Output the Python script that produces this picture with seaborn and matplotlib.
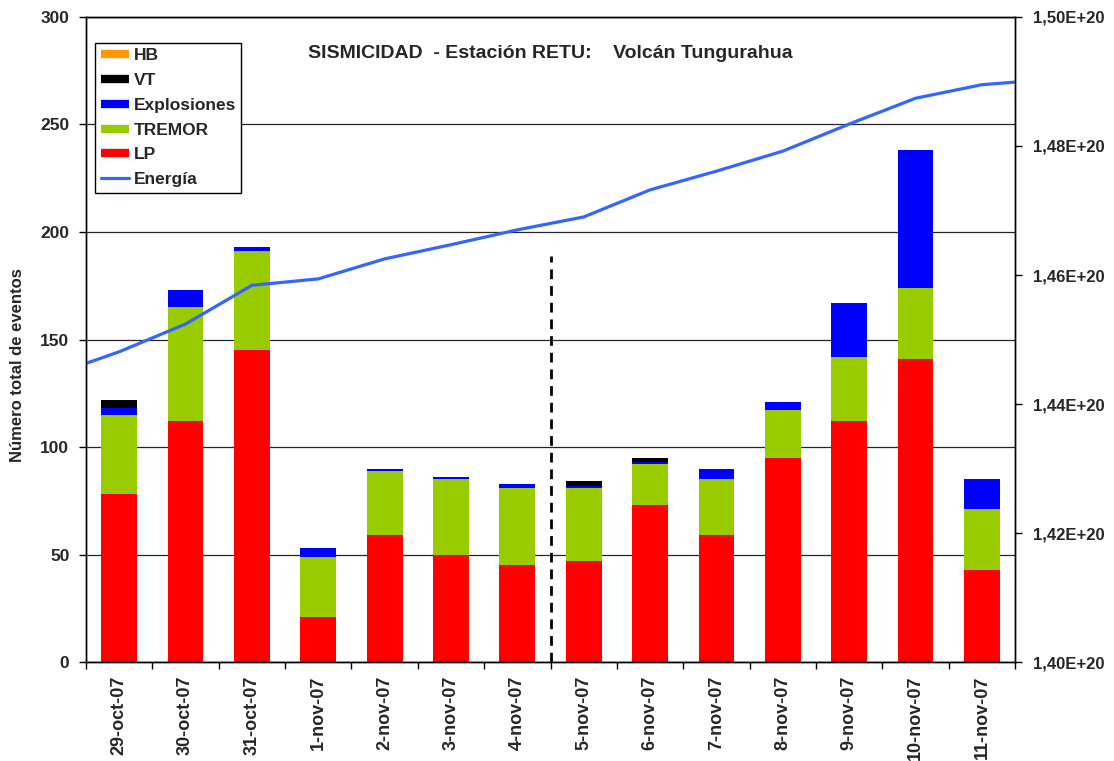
import numpy as np
import pandas as pd
import seaborn as sns
import matplotlib
matplotlib.use('Agg')
import matplotlib.pyplot as plt
from matplotlib import font_manager
from matplotlib.lines import Line2D
from matplotlib.ticker import FuncFormatter, FixedLocator

# daily counts, Tungurahua RETU station
fechas = ['29-oct-07', '30-oct-07', '31-oct-07', '1-nov-07', '2-nov-07', '3-nov-07', '4-nov-07',
          '5-nov-07', '6-nov-07', '7-nov-07', '8-nov-07', '9-nov-07', '10-nov-07', '11-nov-07']
lp = [78, 112, 145, 21, 59, 50, 45, 47, 73, 59, 95, 112, 141, 43]
tremor = [37, 53, 46, 28, 30, 35, 36, 34, 19, 26, 22, 30, 33, 28]
explosiones = [3, 8, 2, 4, 1, 1, 2, 1, 1, 5, 4, 25, 64, 14]
vt = [4, 0, 0, 0, 0, 0, 0, 2, 2, 0, 0, 0, 0, 0]
hb = [0] * 14

# cumulative energy (J), plus the values where the line meets the plot edges
energia = [1.4481e20, 1.4524e20, 1.4584e20, 1.4594e20, 1.4625e20, 1.4647e20, 1.4670e20,
           1.4690e20, 1.4732e20, 1.4761e20, 1.4792e20, 1.4834e20, 1.4874e20, 1.4895e20]
energia_inicio = 1.4463e20
energia_fin = 1.4899e20

c_hb = '#FF9900'
c_vt = '#000000'
c_exp = '#0000FF'
c_tre = '#99CC00'
c_lp = '#FF0000'
c_en = '#3366FF'

sns.set_style('ticks')

# pick an Arial-like family that actually has a bold face
fam = 'DejaVu Sans'
for cand in ['Liberation Sans', 'Arimo', 'Noto Sans', 'Roboto', 'Open Sans', 'Lato', 'Inter']:
    try:
        f = font_manager.findfont(font_manager.FontProperties(family=cand, weight='bold'),
                                  fallback_to_default=False)
    except Exception:
        continue
    if 'bold' in f.lower():
        fam = cand
        break
plt.rcParams['font.family'] = [fam, 'DejaVu Sans']
plt.rcParams['font.weight'] = 'bold'

df = pd.DataFrame({'fecha': fechas, 'LP': lp, 'TREMOR': tremor,
                   'Explosiones': explosiones, 'VT': vt, 'HB': hb})
df['c_lp'] = df['LP']
df['c_tre'] = df['c_lp'] + df['TREMOR']
df['c_exp'] = df['c_tre'] + df['Explosiones']
df['c_vt'] = df['c_exp'] + df['VT']
df['c_hb'] = df['c_vt'] + df['HB']

fig = plt.figure(figsize=(11.14, 7.61), dpi=100)
ax = fig.add_axes([0.0772, 0.130, 0.834, 0.8477])

# stacked bars drawn from the top layer down
for col, color in [('c_hb', c_hb), ('c_vt', c_vt), ('c_exp', c_exp), ('c_tre', c_tre), ('c_lp', c_lp)]:
    sns.barplot(data=df, x='fecha', y=col, color=color, saturation=1, width=0.54, ax=ax,
                edgecolor='none', linewidth=0)

n = len(fechas)
ax.set_xlim(-0.5, n - 0.5)
ax.set_ylim(0, 300)
ax.set_yticks(range(0, 301, 50))
ax.yaxis.grid(True, color='0.15', lw=0.9)
ax.set_axisbelow(True)
ax.set_xlabel('')
ax.set_ylabel('Número total de eventos', fontsize=12, fontweight='bold')
ax.yaxis.set_label_coords(-0.0657, 0.46)
ax.xaxis.set_minor_locator(FixedLocator(np.arange(-0.5, n, 1)))
ax.tick_params(axis='x', which='major', length=0, pad=10, labelsize=13, labelrotation=90)
ax.tick_params(axis='x', which='minor', length=5, width=1, color='black')
ax.tick_params(axis='y', length=5, width=1, color='black', labelsize=12.5, pad=7)
for lab in ax.get_xticklabels() + ax.get_yticklabels():
    lab.set_fontweight('bold')
for s in ax.spines.values():
    s.set_color('black')
    s.set_linewidth(1)

ax.vlines(6.5, 0, 189, colors='black', linestyles=(0, (3.5, 2.5)), lw=2)

ax.text(0.4995, 0.944, 'SISMICIDAD  - Estación RETU:    Volcán Tungurahua', transform=ax.transAxes,
        ha='center', va='center', fontsize=14, fontweight='bold')

# energy line on the secondary axis
ax2 = ax.twinx()
x_en = [-0.5] + list(range(n)) + [n - 0.5]
y_en = [energia_inicio] + energia + [energia_fin]
sns.lineplot(x=x_en, y=y_en, color=c_en, lw=2.3, ax=ax2, sort=False)
ax2.set_xlim(-0.5, n - 0.5)
ax2.set_ylim(1.40e20, 1.50e20)
ax2.set_yticks(np.linspace(1.40e20, 1.50e20, 6))
ax2.yaxis.set_major_formatter(FuncFormatter(lambda v, p: f'{v / 1e20:.2f}'.replace('.', ',') + 'E+20'))
ax2.tick_params(axis='y', length=5, width=1, color='black', labelsize=12, pad=8)
for lab in ax2.get_yticklabels():
    lab.set_fontweight('bold')
ax2.set_ylabel('')
for s in ax2.spines.values():
    s.set_color('black')
    s.set_linewidth(1)

handles = [
    Line2D([], [], color=c_hb, lw=6, solid_capstyle='butt'),
    Line2D([], [], color=c_vt, lw=6, solid_capstyle='butt'),
    Line2D([], [], color=c_exp, lw=6, solid_capstyle='butt'),
    Line2D([], [], color=c_tre, lw=6, solid_capstyle='butt'),
    Line2D([], [], color=c_lp, lw=6, solid_capstyle='butt'),
    Line2D([], [], color=c_en, lw=2.3),
]
labels = ['HB', 'VT', 'Explosiones', 'TREMOR', 'LP', 'Energía']
leg = ax2.legend(handles, labels, loc='upper left', bbox_to_anchor=(0.0097, 0.96), borderaxespad=0,
                 frameon=True, fancybox=False, edgecolor='black', framealpha=1,
                 prop={'size': 12.5, 'weight': 'bold'}, handlelength=1.65, handletextpad=0.25,
                 labelspacing=0.55, borderpad=0.32)
leg.get_frame().set_linewidth(1)

fig.savefig('out.png', dpi=100)
